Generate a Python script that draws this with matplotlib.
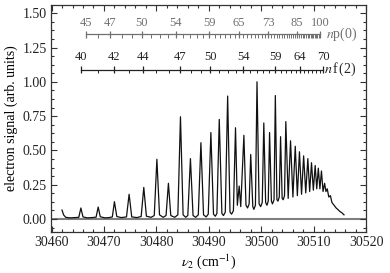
import numpy as np
import matplotlib.pyplot as plt
from matplotlib.ticker import AutoMinorLocator, FormatStrFormatter

plt.rcParams['font.family'] = ['Liberation Serif', 'DejaVu Serif']
plt.rcParams['mathtext.fontset'] = 'stix'

# spectrum, peak tops
peak_x = [30462.0, 30465.6, 30468.9, 30472.0, 30474.8, 30477.6, 30480.1, 30482.3,
          30484.6, 30486.5, 30488.5, 30490.4, 30492.0, 30493.6, 30495.1, 30495.8,
          30496.7, 30498.0, 30499.2, 30500.5, 30501.6, 30502.7, 30503.7, 30504.7,
          30505.6, 30506.5, 30507.3, 30508.1, 30508.9, 30509.6, 30510.3, 30510.9,
          30511.5, 30512.1, 30512.6, 30513.2]
peak_y = [0.065, 0.08, 0.087, 0.126, 0.18, 0.23, 0.435, 0.26,
          0.745, 0.44, 0.556, 0.63, 0.726, 0.896, 0.665, 0.24,
          0.61, 0.47, 1.0, 0.70, 0.63, 0.90, 0.60, 0.71,
          0.57, 0.53, 0.49, 0.46, 0.44, 0.41, 0.39, 0.37,
          0.35, 0.26, 0.22, 0.17]

# troughs / feet between the peaks
trough_x = [30462.3, 30462.7, 30463.5, 30464.5, 30465.2, 30466.0, 30466.8, 30467.7,
            30468.5, 30469.3, 30470.2, 30471.0, 30471.6, 30472.45, 30473.3, 30474.3,
            30475.3, 30476.3, 30477.1, 30478.1, 30479.0, 30479.6, 30480.6, 30481.3,
            30481.85, 30482.75, 30483.5, 30484.1, 30485.1, 30485.6, 30486.0, 30487.0,
            30487.5, 30488.0, 30489.0, 30489.5, 30489.9, 30490.9, 30491.25, 30491.55,
            30492.5, 30492.8, 30493.15, 30494.05, 30494.35, 30494.7, 30495.45, 30496.1,
            30497.1, 30497.4, 30497.7, 30498.4, 30498.6, 30498.9, 30499.6, 30499.9,
            30500.2, 30500.85, 30501.1, 30501.35, 30501.95, 30502.15, 30502.45, 30503.0,
            30503.2, 30503.45, 30504.0, 30504.2, 30504.45, 30505.15, 30506.05, 30506.9,
            30507.7, 30508.5, 30509.25, 30509.95, 30510.6, 30511.2, 30511.8, 30512.35,
            30512.9, 30513.5, 30513.9, 30514.3, 30514.6, 30515.0, 30515.4, 30515.8]
trough_y = [0.03, 0.012, 0.008, 0.01, 0.012, 0.015, 0.008, 0.01,
            0.013, 0.016, 0.008, 0.01, 0.015, 0.018, 0.01, 0.015,
            0.015, 0.01, 0.018, 0.02, 0.012, 0.025, 0.03, 0.012,
            0.025, 0.025, 0.012, 0.03, 0.03, 0.012, 0.025, 0.025,
            0.012, 0.03, 0.03, 0.015, 0.035, 0.035, 0.02, 0.04,
            0.04, 0.025, 0.05, 0.05, 0.035, 0.06, 0.10, 0.09,
            0.10, 0.08, 0.11, 0.09, 0.07, 0.10, 0.11, 0.09,
            0.12, 0.12, 0.10, 0.13, 0.13, 0.11, 0.14, 0.14,
            0.13, 0.16, 0.15, 0.14, 0.17, 0.15, 0.16, 0.17,
            0.18, 0.19, 0.20, 0.21, 0.22, 0.22, 0.20, 0.20,
            0.16, 0.12, 0.10, 0.08, 0.07, 0.055, 0.045, 0.03]

# Rydberg ladders drawn above the spectrum
ryd = 109737.3
np0_n = np.arange(45, 101)
np0_lab = [45, 47, 50, 54, 59, 65, 73, 85, 100]
np0_ip, np0_defect = 30522.3, 0.65
nf2_n = np.arange(40, 71)
nf2_lab = [40, 42, 44, 47, 50, 54, 59, 64, 70]
nf2_ip, nf2_defect = 30534.2, 0.0

xticks = [30460, 30470, 30480, 30490, 30500, 30510, 30520]
yticks = [0.0, 0.25, 0.5, 0.75, 1.0, 1.25, 1.5]


def ladder(ax, n, labels, ip, defect, y, lab_dy, color, name, name_dx):
    pos = ip - ryd / (n - defect) ** 2
    h = 0.024
    ax.plot([pos[0], pos[-1]], [y, y], color=color, lw=0.9)
    big = np.isin(n, labels)
    ax.vlines(pos[big], y - h, y + h, color=color, lw=0.9)
    ax.vlines(pos[~big], y - h, y, color=color, lw=0.7)
    for k, p in zip(n[big], pos[big]):
        ax.text(p, y + lab_dy, str(k), ha='center', va='center', fontsize=9, color=color)
    ax.text(pos[-1] + name_dx, y, name, ha='left', va='center', fontsize=10, color=color)


fig = plt.figure(figsize=(3.9, 2.73), dpi=100)
ax = fig.add_axes([0.1308, 0.1502, 0.8077, 0.8315])

ax.axhline(0, color='#808080', lw=1.5, zorder=1)

sx = np.array(peak_x + trough_x)
sy = np.array(peak_y + trough_y)
order = np.argsort(sx)
ax.plot(sx[order], sy[order], color='#111111', lw=0.9, zorder=2)

ladder(ax, np0_n, np0_lab, np0_ip, np0_defect, 1.347, 0.085, '#707070', r'$n$p(0)', 1.1)
ladder(ax, nf2_n, nf2_lab, nf2_ip, nf2_defect, 1.089, 0.095, '#222222', r'$n\,$f$\,$(2)', 0.15)

ax.set_xlim(30459.9, 30520)
ax.set_ylim(-0.095, 1.56)
ax.set_xticks(xticks)
ax.set_yticks(yticks)
ax.xaxis.set_minor_locator(AutoMinorLocator(5))
ax.yaxis.set_minor_locator(AutoMinorLocator(4))
ax.yaxis.set_major_formatter(FormatStrFormatter('%.2f'))
ax.tick_params(which='both', direction='in', top=True, right=True, width=0.8,
               colors='#333333', labelcolor='#222222', labelsize=10)
ax.tick_params(which='major', length=4, pad=3)
ax.tick_params(which='minor', length=2)
for s in ax.spines.values():
    s.set_color('#333333')
    s.set_linewidth(0.9)

ax.set_xlabel(r'$\nu_2$ (cm$^{-1}$)', fontsize=10, labelpad=2)
ax.set_ylabel('electron signal (arb. units)', fontsize=10, labelpad=3)

fig.savefig('out.png', dpi=100)
